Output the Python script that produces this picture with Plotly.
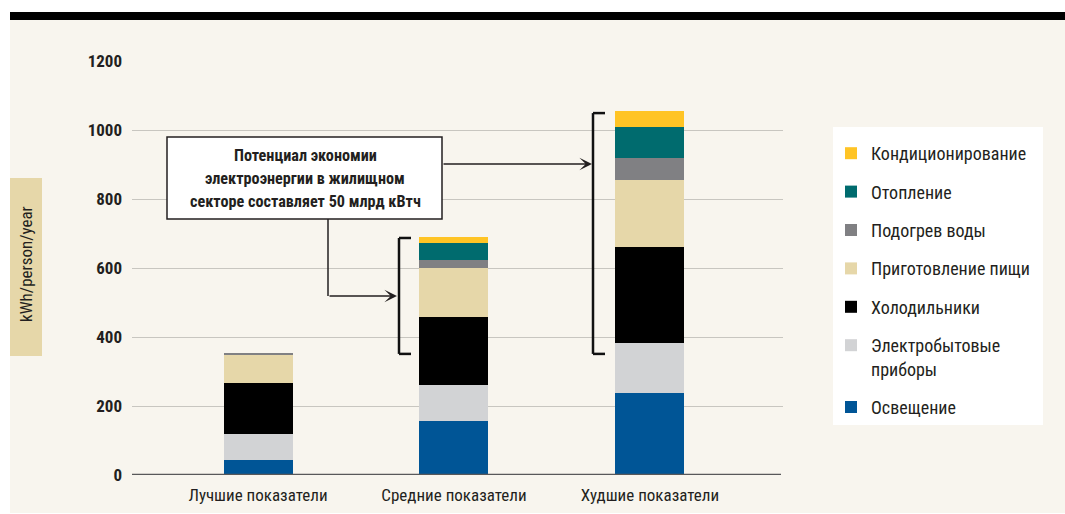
import plotly.graph_objects as go

categories = ["Лучшие показатели", "Средние показатели", "Худшие показатели"]
series_names = ["Освещение", "Электробытовые<br>приборы", "Холодильники",
                "Приготовление пищи", "Подогрев воды", "Отопление", "Кондиционирование"]
lighting = [43, 157, 238]
appliances = [76, 104, 145]
fridges = [148, 197, 278]
cooking = [80, 142, 194]
water_heating = [6, 23, 64]
heating = [0, 50, 90]
cooling = [0, 17, 46]
series_values = [lighting, appliances, fridges, cooking, water_heating, heating, cooling]
colors = ["#005596", "#D2D3D5", "#000000", "#E6D7A9", "#808083", "#006B6E", "#FFC425"]
y_ticks = [0, 200, 400, 600, 800, 1000, 1200]
callout_lines = ["Потенциал экономии", "электроэнергии в жилищном",
                 "секторе составляет 50 млрд кВтч"]
y_label = "kWh/person/year"
bracket_mid = (351, 687)
bracket_worst = (351, 1049)

FONT = "Roboto Condensed, Liberation Sans Narrow, sans-serif"
TXT = "#231F20"
W, H = 1065, 514
L, R, T, B = 132, 783, 61, 475


def px(x):
    return (x - L) / (R - L)


def py(y):
    return (B - y) / (B - T)


fig = go.Figure()
n = len(series_names)
for i, (name, vals, col) in enumerate(zip(series_names, series_values, colors)):
    fig.add_trace(go.Bar(x=categories, y=vals, name=name, marker_color=col,
                         marker_line_width=0, width=0.352, legendgroup=f"g{i}",
                         legendrank=n - i))

shapes = []
shapes.append(dict(type="rect", xref="paper", yref="paper", x0=px(10), x1=px(1065),
                   y0=py(513), y1=py(20), fillcolor="#F8F5EE", line_width=0, layer="below"))
shapes.append(dict(type="rect", xref="paper", yref="paper", x0=px(10), x1=px(1065),
                   y0=py(20), y1=py(12), fillcolor="#000000", line_width=0, layer="below"))
shapes.append(dict(type="rect", xref="paper", yref="paper", x0=px(10), x1=px(42),
                   y0=py(356), y1=py(178), fillcolor="#E6D7A9", line_width=0, layer="below"))
shapes.append(dict(type="rect", xref="paper", yref="paper", x0=px(833), x1=px(1043),
                   y0=py(425), y1=py(127), fillcolor="#FFFFFF", line_width=0, layer="below"))
shapes.append(dict(type="line", xref="paper", yref="y", x0=0, x1=px(781), y0=0, y1=0,
                   line=dict(color="#58585A", width=2.5)))
shapes.append(dict(type="rect", xref="paper", yref="paper", x0=px(167), x1=px(442),
                   y0=py(219), y1=py(137), fillcolor="#FFFFFF",
                   line=dict(color="#231F20", width=1.5)))
shapes.append(dict(type="line", xref="paper", yref="paper", x0=px(328), x1=px(328),
                   y0=py(219), y1=py(296), line=dict(color="#231F20", width=1.5)))
for (lo, hi), xv in ((bracket_mid, 399), (bracket_worst, 593)):
    shapes.append(dict(type="line", xref="paper", yref="y", x0=px(xv), x1=px(xv),
                       y0=lo, y1=hi, line=dict(color="#111111", width=2.5)))
    shapes.append(dict(type="line", xref="paper", yref="y", x0=px(xv), x1=px(xv + 12),
                       y0=hi, y1=hi, line=dict(color="#111111", width=2.5)))
    shapes.append(dict(type="line", xref="paper", yref="y", x0=px(xv), x1=px(xv + 12),
                       y0=lo, y1=lo, line=dict(color="#111111", width=2.5)))

annotations = [
    dict(text=y_label, xref="paper", yref="paper", x=px(26), y=py(264), showarrow=False,
         xanchor="center", yanchor="middle",
         textangle=-90, font=dict(family=FONT, size=17, color=TXT)),
    dict(text="", xref="paper", yref="paper", x=px(592), y=py(164), ax=-150, ay=0,
         showarrow=True, arrowhead=3, arrowsize=1.4, arrowwidth=1.5, arrowcolor="#231F20"),
    dict(text="", xref="paper", yref="paper", x=px(397), y=py(296), ax=-69, ay=0,
         showarrow=True, arrowhead=3, arrowsize=1.4, arrowwidth=1.5, arrowcolor="#231F20"),
]
for line, yy in zip(callout_lines, (155, 178.5, 202)):
    annotations.append(dict(text=f"<b>{line}</b>", xref="paper", yref="paper", x=px(305),
                            y=py(yy), xanchor="center", yanchor="middle", showarrow=False,
                            font=dict(family=FONT, size=16.2, color=TXT)))

fig.update_layout(
    width=W, height=H,
    margin=dict(l=L, r=W - R, t=T, b=H - B, pad=0, autoexpand=False),
    paper_bgcolor="#FFFFFF", plot_bgcolor="rgba(0,0,0,0)",
    barmode="stack", bargap=0,
    font=dict(family=FONT, size=16, color=TXT),
    shapes=shapes, annotations=annotations,
    legend=dict(x=px(831), y=py(135), xanchor="left", yanchor="top",
                traceorder="grouped", tracegroupgap=12,
                bgcolor="rgba(0,0,0,0)", font=dict(family=FONT, size=18, color=TXT),
                itemwidth=30, valign="top"),
    xaxis=dict(range=[-0.643, 2.679], showgrid=False, zeroline=False, showline=False,
               ticks="", ticklabelstandoff=8, automargin=False,
               tickfont=dict(family=FONT, size=17, color=TXT), fixedrange=True),
    yaxis=dict(range=[0, 1200], tickvals=y_ticks, showgrid=True, gridcolor="#C8C6C0",
               gridwidth=1.3, zeroline=False, showline=False, ticks="",
               ticklabelstandoff=9, automargin=False,
               tickfont=dict(family=FONT, size=17, color=TXT, weight="bold"),
               fixedrange=True),
)

fig.write_html("out.html", config={"displayModeBar": False},
               post_script="document.body.style.margin='0px';")
